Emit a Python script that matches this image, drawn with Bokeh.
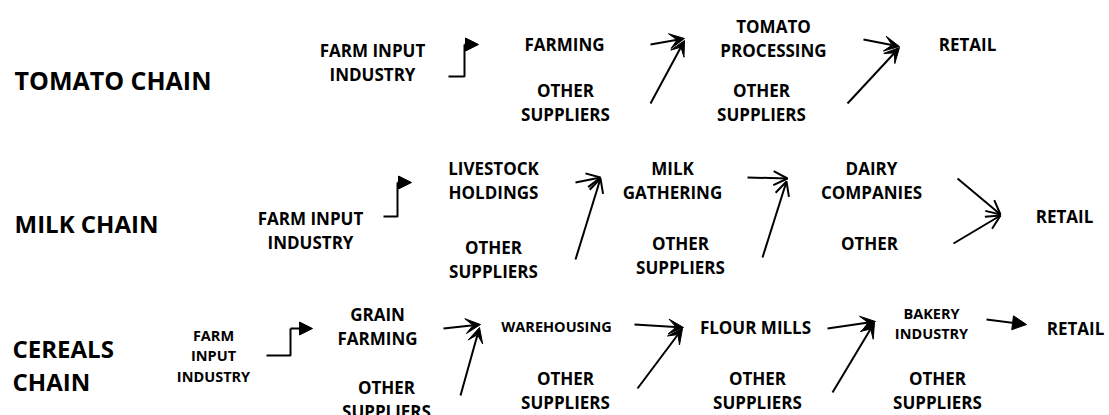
from bokeh.plotting import figure
from bokeh.models import Range1d, ColumnDataSource, Arrow, VeeHead, OpenHead, NormalHead
from bokeh.embed import file_html
from bokeh.resources import INLINE
from bokeh.core.properties import value

FONT = "Open Sans"

# ---- chain titles (left column) ----
title_labels = ["TOMATO CHAIN", "MILK CHAIN", "CEREALS\nCHAIN"]
title_x = [14, 14, 12]
title_y = [79, 223, 364]
title_sizes = ["25px", "24px", "24px"]

# ---- stage boxes (label, x centre, y centre) ----
node_labels = [
    "FARM INPUT\nINDUSTRY", "FARMING", "OTHER\nSUPPLIERS", "TOMATO\nPROCESSING",
    "OTHER\nSUPPLIERS", "RETAIL",
    "FARM INPUT\nINDUSTRY", "LIVESTOCK\nHOLDINGS", "OTHER\nSUPPLIERS", "MILK\nGATHERING",
    "OTHER\nSUPPLIERS", "DAIRY\nCOMPANIES", "OTHER", "RETAIL",
    "GRAIN\nFARMING", "OTHER\nSUPPLIERS", "OTHER\nSUPPLIERS", "FLOUR MILLS",
    "OTHER\nSUPPLIERS", "OTHER\nSUPPLIERS", "RETAIL",
]
node_x = [372, 564, 565, 773, 761, 967,
          310, 493, 493, 672, 680, 871, 869, 1064,
          377, 386, 565, 755, 757, 937, 1075]
node_y = [62, 44, 101.5, 37.5, 101.5, 44,
          229.5, 180, 259, 180, 255, 180, 243, 216,
          326, 398.5, 390, 327, 390, 390, 328]

# smaller-print stages (cereals chain)
small_labels = ["FARM\nINPUT\nINDUSTRY", "WAREHOUSING", "BAKERY\nINDUSTRY"]
small_x = [213, 556, 931]
small_y = [355, 326, 323]

# ---- straight flows (start -> end) ----
vee_x0 = [650, 650, 863, 847, 443, 460, 634, 637, 827, 832]
vee_y0 = [44, 103, 39, 103, 328, 395, 324, 388, 328, 392]
vee_x1 = [684, 684, 899, 899, 480, 479, 683, 682, 875, 874]
vee_y1 = [38, 40, 46, 47, 324, 327, 327, 328, 321, 322]

open_x0 = [575, 575, 747, 762, 957, 953]
open_y0 = [182, 259, 177, 257, 178, 243]
open_x1 = [600, 600, 787, 786, 1000, 1000]
open_y1 = [177, 178, 178, 181, 214, 215]

solid_x0 = [986]
solid_y0 = [319]
solid_x1 = [1026]
solid_y1 = [324]

# ---- elbow flows from the farm input industry ----
elbow_xs = [[448, 464, 464], [383, 397, 397], [266, 290, 290]]
elbow_ys = [[76, 76, 44], [216, 216, 182], [355, 355, 328]]
elbow_end_x = [478, 411, 312]

p = figure(width=1109, height=415, x_range=Range1d(0, 1109), y_range=Range1d(415, 0),
           output_backend="svg", toolbar_location=None, min_border=0,
           x_axis_type=None, y_axis_type=None)
p.grid.visible = False
p.outline_line_color = None
p.background_fill_color = "white"
p.border_fill_color = "white"


def lines_of(labels, xs, ys, spacing):
    tx, ty, tt = [], [], []
    for lab, x, y in zip(labels, xs, ys):
        parts = lab.split("\n")
        n = len(parts)
        for i, s in enumerate(parts):
            tx.append(x)
            ty.append(y + (i - (n - 1) / 2) * spacing)
            tt.append(s)
    return tx, ty, tt


# titles
for lab, x, y, fs in zip(title_labels, title_x, title_y, title_sizes):
    tx, ty, tt = lines_of([lab], [x], [y], 33)
    p.text(x=tx, y=ty, text=tt, text_font=value(FONT), text_font_style="bold",
           text_font_size=fs, text_align="left", text_baseline="middle", text_color="black")

# main stages
tx, ty, tt = lines_of(node_labels, node_x, node_y, 24)
p.text(x=tx, y=ty, text=tt, text_font=value(FONT), text_font_style="bold",
       text_font_size="17px", text_align="center", text_baseline="middle", text_color="black")

# small stages
tx, ty, tt = lines_of(small_labels, small_x, small_y, 20.5)
p.text(x=tx, y=ty, text=tt, text_font=value(FONT), text_font_style="bold",
       text_font_size="14.5px", text_align="center", text_baseline="middle", text_color="black")

# elbows
p.multi_line(xs=elbow_xs, ys=elbow_ys, line_color="black", line_width=2)
el_src = ColumnDataSource(dict(x0=[xs[-1] for xs in elbow_xs], y0=[ys[-1] for ys in elbow_ys],
                               x1=elbow_end_x, y1=[ys[-1] for ys in elbow_ys]))
p.add_layout(Arrow(end=NormalHead(size=13, fill_color="black", line_color="black", line_width=1),
                   source=el_src, x_start="x0", y_start="y0", x_end="x1", y_end="y1",
                   line_color="black", line_width=2))

vee_src = ColumnDataSource(dict(x0=vee_x0, y0=vee_y0, x1=vee_x1, y1=vee_y1))
p.add_layout(Arrow(end=VeeHead(size=15, fill_color="black", line_color="black", line_width=1),
                   source=vee_src, x_start="x0", y_start="y0", x_end="x1", y_end="y1",
                   line_color="black", line_width=2))

open_src = ColumnDataSource(dict(x0=open_x0, y0=open_y0, x1=open_x1, y1=open_y1))
p.add_layout(Arrow(end=OpenHead(size=14, line_color="black", line_width=2),
                   source=open_src, x_start="x0", y_start="y0", x_end="x1", y_end="y1",
                   line_color="black", line_width=2))

solid_src = ColumnDataSource(dict(x0=solid_x0, y0=solid_y0, x1=solid_x1, y1=solid_y1))
p.add_layout(Arrow(end=NormalHead(size=14, fill_color="black", line_color="black", line_width=1),
                   source=solid_src, x_start="x0", y_start="y0", x_end="x1", y_end="y1",
                   line_color="black", line_width=2))

open("out.html", "w").write(file_html(p, INLINE))
